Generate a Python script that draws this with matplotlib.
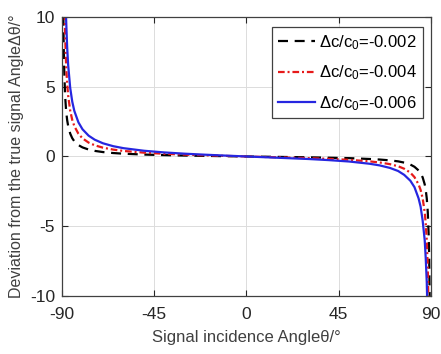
import matplotlib
matplotlib.use("Agg")
import matplotlib.pyplot as plt

plt.rcParams['font.family'] = ['Liberation Sans', 'DejaVu Sans']
plt.rcParams['mathtext.fontset'] = 'custom'
plt.rcParams['mathtext.rm'] = 'Liberation Sans'
plt.rcParams['mathtext.it'] = 'Liberation Sans:italic'
plt.rcParams['axes.unicode_minus'] = False

# Incidence angle samples (degrees)
theta = [-89.9, -89.8, -89.6, -89.4, -89.2, -89.0, -88.5, -88.0, -87.5, -87.0,
         -86.0, -85.0, -84.0, -82.0, -80.0, -77.0, -74.0, -70.0, -65.0, -60.0,
         -50.0, -40.0, -30.0, -20.0, -10.0, 0.0,
         10.0, 20.0, 30.0, 40.0, 50.0, 60.0, 65.0, 70.0, 74.0, 77.0,
         80.0, 82.0, 84.0, 85.0, 86.0, 87.0, 87.5, 88.0, 88.5, 89.0,
         89.2, 89.4, 89.6, 89.8, 89.9]

# Angle deviation (degrees)
dev_002 = [65.7, 32.8, 16.4, 10.9, 8.21, 6.57, 4.38, 3.28, 2.62, 2.19,
           1.64, 1.31, 1.09, 0.815, 0.65, 0.496, 0.40, 0.315, 0.246, 0.198,
           0.137, 0.096, 0.066, 0.042, 0.020, 0.0,
           -0.02, -0.04, -0.06, -0.09, -0.12, -0.18, -0.22, -0.28, -0.35, -0.44,
           -0.58, -0.74, -1.0, -1.2, -1.5, -2.0, -2.4, -3.0, -4.0, -5.9,
           -7.4, -9.9, -14.9, -30.0, -60.0]
dev_004 = [131.3, 65.7, 32.8, 21.9, 16.4, 13.13, 8.75, 6.56, 5.25, 4.37,
           3.28, 2.62, 2.18, 1.63, 1.30, 0.993, 0.799, 0.63, 0.492, 0.397,
           0.273, 0.192, 0.132, 0.083, 0.040, 0.0,
           -0.04, -0.08, -0.12, -0.17, -0.24, -0.35, -0.43, -0.55, -0.70, -0.88,
           -1.16, -1.48, -2.0, -2.4, -3.0, -4.0, -4.8, -6.0, -8.0, -11.8,
           -14.8, -19.8, -30.0, -60.0, -120.0]
dev_006 = [197.0, 98.5, 49.2, 32.8, 24.6, 19.7, 13.13, 9.85, 7.87, 6.56,
           4.92, 3.93, 3.27, 2.45, 1.95, 1.49, 1.20, 0.944, 0.737, 0.595,
           0.41, 0.288, 0.198, 0.125, 0.061, 0.0,
           -0.06, -0.12, -0.18, -0.26, -0.36, -0.52, -0.64, -0.82, -1.04, -1.32,
           -1.74, -2.2, -3.0, -3.6, -4.6, -6.0, -7.3, -9.0, -12.0, -17.7,
           -22.0, -30.0, -45.0, -90.0, -180.0]

labels = ['Δc/c$_0$=-0.002', 'Δc/c$_0$=-0.004', 'Δc/c$_0$=-0.006']
xticks = [-90, -45, 0, 45, 90]
yticks = [-10, -5, 0, 5, 10]

fig = plt.figure(figsize=(4.41, 3.54), dpi=100)
ax = fig.add_axes([0.1406, 0.164, 0.977 - 0.1406, 0.952 - 0.164])

ax.plot(theta, dev_002, color='black', lw=1.6, dashes=(4.5, 3), label=labels[0])
ax.plot(theta, dev_004, color=(0.9, 0.1, 0.1), lw=1.6, dashes=(3, 1.3, 0.9, 1.3), label=labels[1])
ax.plot(theta, dev_006, color=(0.15, 0.15, 0.88), lw=1.6, ls='-', label=labels[2])

ax.set_xlim(-90, 90)
ax.set_ylim(-10, 10)
ax.set_xticks(xticks)
ax.set_yticks(yticks)
ax.grid(True, color='#dcdcdc', lw=0.7)
ax.set_axisbelow(True)
ax.tick_params(direction='in', top=True, right=True, labelsize=12.5, colors='#262626',
               length=4, width=0.8)
ax.tick_params(axis='x', pad=8)
ax.tick_params(axis='y', pad=5)
for sp in ax.spines.values():
    sp.set_color('#404040')
    sp.set_linewidth(0.9)

ax.set_xlabel('Signal incidence Angleθ/°', fontsize=12, color='#404040', labelpad=6)
ax.set_ylabel('Deviation from the true signal AngleΔθ/°', fontsize=11.5, color='#404040', labelpad=4)

leg = ax.legend(loc='upper right', fontsize=12, handlelength=2.2, handletextpad=0.25,
                fancybox=False, framealpha=1, edgecolor='#404040', borderpad=0.35,
                labelspacing=0.7, borderaxespad=0, bbox_to_anchor=(0.978, 0.963))
leg.get_frame().set_linewidth(0.9)

fig.savefig('out.png', dpi=100)
